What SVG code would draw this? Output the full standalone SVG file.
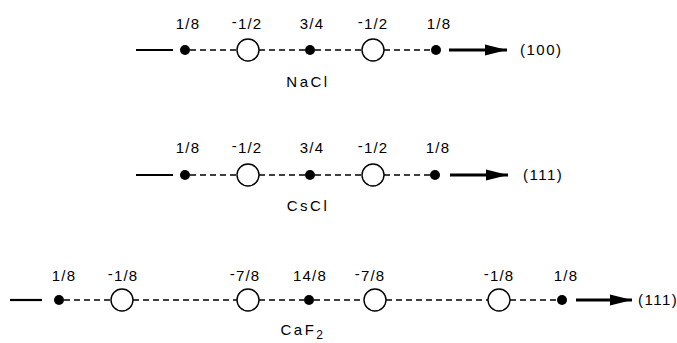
<svg xmlns="http://www.w3.org/2000/svg" width="677" height="343" viewBox="0 0 677 343">
<style>
text{font-family:"Liberation Sans",Arial,sans-serif;font-size:15px;fill:#000;}
.lbl{text-anchor:middle;letter-spacing:1.2px;}
.name{text-anchor:middle;letter-spacing:2.5px;}
.dir{letter-spacing:1.5px;}
.dot{fill:#000;stroke:none;}
.ion{fill:#fff;stroke:#000;stroke-width:1.4;}
.dash{stroke:#000;stroke-width:1.3;stroke-dasharray:6 4;fill:none;}
.solid{stroke:#000;stroke-width:2.2;fill:none;}
.arrow{stroke:#000;stroke-width:3;fill:none;}
</style>
<defs>
<marker id="ah" markerUnits="userSpaceOnUse" markerWidth="24" markerHeight="14" refX="22" refY="7" orient="auto">
<path d="M0,1.5 L22,7 L0,12.5 Z" fill="#000"/>
</marker>
</defs>
<rect width="677" height="343" fill="#fff"/>
<g id="connectors">
<!-- Row 1 NaCl -->
<line class="solid" x1="136" y1="50" x2="173" y2="50"/>
<line class="dash" x1="190" y1="50" x2="237" y2="50"/>
<line class="dash" x1="259" y1="50" x2="305" y2="50"/>
<line class="dash" x1="315" y1="50" x2="362" y2="50"/>
<line class="dash" x1="384" y1="50" x2="431" y2="50"/>
<line class="arrow" x1="449" y1="50" x2="507" y2="50" marker-end="url(#ah)"/>
<!-- Row 2 CsCl -->
<line class="solid" x1="136" y1="175" x2="173" y2="175"/>
<line class="dash" x1="190" y1="175" x2="237" y2="175"/>
<line class="dash" x1="259" y1="175" x2="305" y2="175"/>
<line class="dash" x1="315" y1="175" x2="362" y2="175"/>
<line class="dash" x1="384" y1="175" x2="430" y2="175"/>
<line class="arrow" x1="450" y1="175" x2="508" y2="175" marker-end="url(#ah)"/>
<!-- Row 3 CaF2 -->
<line class="solid" x1="10" y1="300" x2="42" y2="300"/>
<line class="dash" x1="64" y1="300" x2="111" y2="300"/>
<line class="dash" x1="133" y1="300" x2="237" y2="300"/>
<line class="dash" x1="259" y1="300" x2="304" y2="300"/>
<line class="dash" x1="314" y1="300" x2="364" y2="300"/>
<line class="dash" x1="386" y1="300" x2="488" y2="300"/>
<line class="dash" x1="510" y1="300" x2="557" y2="300"/>
<line class="arrow" x1="576" y1="300" x2="632" y2="300" marker-end="url(#ah)"/>
</g>
<g id="row-nacl">
<g id="nacl-1"><circle class="dot" cx="185" cy="50" r="5"/><text class="lbl" x="188" y="29">1/8</text></g>
<g id="nacl-2"><circle class="ion" cx="248" cy="50" r="11"/><text class="lbl" x="247" y="29"><tspan dy="-2">-</tspan><tspan dy="2">1/2</tspan></text></g>
<g id="nacl-3"><circle class="dot" cx="310" cy="50" r="5"/><text class="lbl" x="312" y="29">3/4</text></g>
<g id="nacl-4"><circle class="ion" cx="373" cy="50" r="11"/><text class="lbl" x="373" y="29"><tspan dy="-2">-</tspan><tspan dy="2">1/2</tspan></text></g>
<g id="nacl-5"><circle class="dot" cx="436" cy="50" r="5"/><text class="lbl" x="439" y="29">1/8</text></g>
<g id="nacl-dir"><text class="dir" x="520" y="55">(100)</text></g>
<g id="nacl-name"><text class="name" x="308" y="87">NaCl</text></g>
</g>
<g id="row-cscl">
<g id="cscl-1"><circle class="dot" cx="185" cy="175" r="5"/><text class="lbl" x="188" y="153">1/8</text></g>
<g id="cscl-2"><circle class="ion" cx="248" cy="175" r="11"/><text class="lbl" x="247" y="153"><tspan dy="-2">-</tspan><tspan dy="2">1/2</tspan></text></g>
<g id="cscl-3"><circle class="dot" cx="310" cy="175" r="5"/><text class="lbl" x="312" y="153">3/4</text></g>
<g id="cscl-4"><circle class="ion" cx="373" cy="175" r="11"/><text class="lbl" x="373" y="153"><tspan dy="-2">-</tspan><tspan dy="2">1/2</tspan></text></g>
<g id="cscl-5"><circle class="dot" cx="435" cy="175" r="5"/><text class="lbl" x="438" y="153">1/8</text></g>
<g id="cscl-dir"><text class="dir" x="523" y="180">(111)</text></g>
<g id="cscl-name"><text class="name" x="308" y="211">CsCl</text></g>
</g>
<g id="row-caf2">
<g id="caf2-1"><circle class="dot" cx="59" cy="300" r="5"/><text class="lbl" x="64" y="281">1/8</text></g>
<g id="caf2-2"><circle class="ion" cx="122" cy="300" r="11"/><text class="lbl" x="123" y="281"><tspan dy="-2">-</tspan><tspan dy="2">1/8</tspan></text></g>
<g id="caf2-3"><circle class="ion" cx="248" cy="300" r="11"/><text class="lbl" x="245" y="281"><tspan dy="-2">-</tspan><tspan dy="2">7/8</tspan></text></g>
<g id="caf2-4"><circle class="dot" cx="309" cy="300" r="5"/><text class="lbl" x="310" y="281">14/8</text></g>
<g id="caf2-5"><circle class="ion" cx="375" cy="300" r="11"/><text class="lbl" x="370" y="281"><tspan dy="-2">-</tspan><tspan dy="2">7/8</tspan></text></g>
<g id="caf2-6"><circle class="ion" cx="499" cy="300" r="11"/><text class="lbl" x="499" y="281"><tspan dy="-2">-</tspan><tspan dy="2">1/8</tspan></text></g>
<g id="caf2-7"><circle class="dot" cx="562" cy="300" r="5"/><text class="lbl" x="566" y="281">1/8</text></g>
<g id="caf2-dir"><text class="dir" x="638" y="305">(111)</text></g>
<g id="caf2-name"><text class="name" x="303" y="335">CaF<tspan font-size="12" dy="4">2</tspan></text></g>
</g>
</svg>
